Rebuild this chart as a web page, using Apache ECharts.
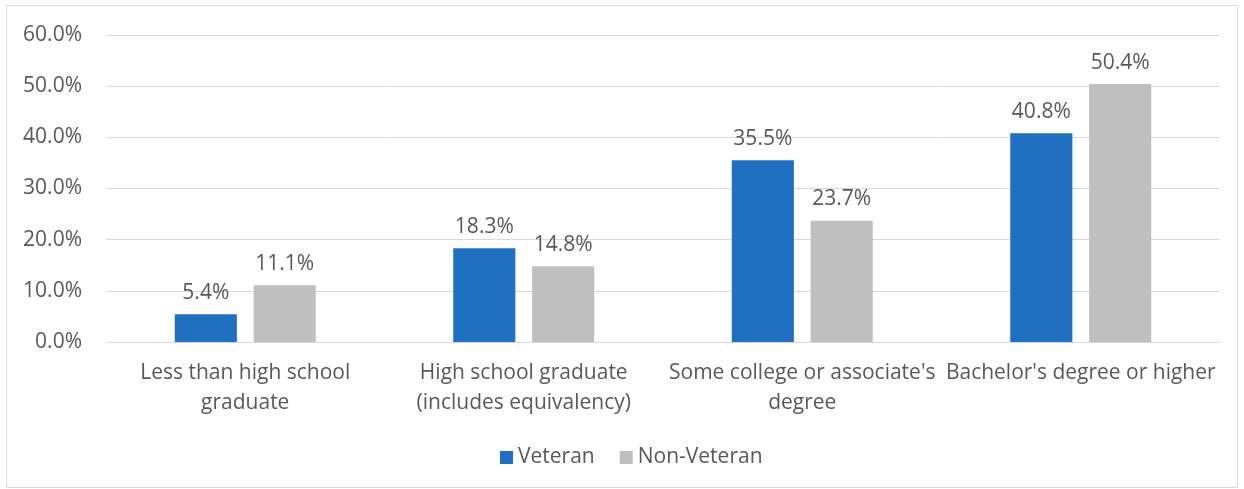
<!DOCTYPE html>
<html>
<head>
<meta charset="utf-8">
<script src="https://cdn.jsdelivr.net/npm/echarts@6/dist/echarts.min.js"></script>
<style>
html,body{margin:0;padding:0;background:#fff;}
#c{width:1244px;height:489px;}
</style>
</head>
<body>
<div id="c"></div>
<script>
const categories = [
  "Less than high school\ngraduate",
  "High school graduate\n(includes equivalency)",
  "Some college or associate's\ndegree",
  "Bachelor's degree or higher"
];
const seriesNames = ["Veteran", "Non-Veteran"];
const veteran = [5.4, 18.3, 35.5, 40.8];
const nonVeteran = [11.1, 14.8, 23.7, 50.4];
const yTicks = [0, 10, 20, 30, 40, 50, 60];

const FONT = "'Open Sans', 'Noto Sans', sans-serif";
const TXT = "#595959";
const FS = 21;

const chart = echarts.init(document.getElementById('c'), null, {renderer: 'canvas'});
const labelCfg = {
  show: true,
  position: 'top',
  distance: 11,
  color: TXT,
  fontSize: FS,
  fontFamily: FONT,
  formatter: p => p.value.toFixed(1) + '%'
};
chart.setOption({
  animation: false,
  backgroundColor: '#fff',
  graphic: [{
    type: 'rect',
    shape: {x: 6.5, y: 5.5, width: 1231, height: 482},
    style: {fill: 'none', stroke: '#D9D9D9', lineWidth: 1},
    silent: true
  }],
  grid: {left: 106, right: 24, top: 35, bottom: 147, containLabel: false},
  legend: {
    bottom: 16,
    left: 495,
    itemWidth: 13,
    itemHeight: 13,
    itemGap: 25,
    icon: 'rect',
    textStyle: {color: TXT, fontSize: FS, fontFamily: FONT},
    data: seriesNames
  },
  xAxis: {
    type: 'category',
    data: categories,
    axisLine: {show: true, lineStyle: {color: '#D9D9D9', width: 1}},
    axisTick: {show: false},
    axisLabel: {color: TXT, fontSize: FS, fontFamily: FONT, lineHeight: 30, margin: 16, interval: 0}
  },
  yAxis: {
    type: 'value',
    min: yTicks[0],
    max: yTicks[yTicks.length - 1],
    interval: 10,
    axisLine: {show: false},
    axisTick: {show: false},
    splitLine: {lineStyle: {color: '#D9D9D9', width: 1}},
    axisLabel: {color: TXT, fontSize: FS, fontFamily: FONT, margin: 24,
      formatter: v => v.toFixed(1) + '%'}
  },
  series: [
    {name: seriesNames[0], type: 'bar', data: veteran, barWidth: '22.3%', barGap: '27%',
     itemStyle: {color: '#1F70C1'}, label: labelCfg},
    {name: seriesNames[1], type: 'bar', data: nonVeteran, barWidth: '22.3%',
     itemStyle: {color: '#BFBFBF'}, label: labelCfg}
  ]
});
</script>
</body>
</html>
